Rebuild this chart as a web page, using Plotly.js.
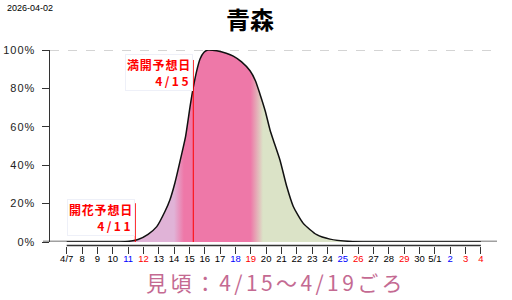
<!DOCTYPE html>
<html><head><meta charset="utf-8">
<script src="https://cdn.plot.ly/plotly-3.0.1.min.js"></script>
<style>html,body{margin:0;padding:0;background:#fff}#c{width:512px;height:300px}</style>
</head><body><div id="c"></div>
<script>
// days since 4/7 and bloom percentage
const dayOffsets = [0,2,3.5,4.0,4.65,5.3,5.87,6.41,6.73,7.06,7.5,7.75,8.05,8.25,8.47,8.69,8.95,9.2,9.78,10.4,10.86,11.4,11.95,12.3,12.6,12.95,13.25,13.47,13.9,14.34,14.77,15.42,16.3,17.16,18.46,19.8,21,27];
const bloomPct   = [0,0,0.05,0.3,1.3,4,8,16,22,31,46,55,71,80.5,89,95.3,98.8,100,99.6,98.3,96.8,93.8,89.2,84,77,68,58.5,53,42.7,29,18.5,9.7,3.8,1.5,0.3,0.02,0,0];
const tickDays   = [0,1,2,3,4,5,6,7,8,9,10,11,12,13,14,15,16,17,18,19,20,21,22,23,24,25,26,27];
const tickLabels = ['4/7','8','9','10','11','12','13','14','15','16','17','18','19','20','21','22','23','24','25','26','27','28','29','30','5/1','2','3','4'];
const tickColors = ['#000','#000','#000','#000','#00f','#f00','#000','#000','#000','#000','#000','#00f','#f00','#000','#000','#000','#000','#000','#00f','#f00','#000','#000','#f00','#000','#000','#00f','#f00','#f00'];
const yTickVals  = [0,20,40,60,80,100];
const yTickLabels = ['0%','20%','40%','60%','80%','100%'];
const kaikaDay = 4.47, kaikaLines = ['開花予想日','4/11'];
const mankaiDay = 8.25, mankaiLines = ['満開予想日','4/15'];
const mihagoroText = '見頃：4/15～4/19ごろ';
const dateText = '2026-04-02';
const titleText = '青森';

const jp = '"Noto Sans CJK JP", "Liberation Sans", sans-serif';
const sp = (t, ls) => '<span style="letter-spacing:' + ls + 'px">' + t + '</span>';
const trace = {
  x: dayOffsets, y: bloomPct, type: 'scatter', mode: 'lines',
  line: {color: '#111', width: 1.5, shape: 'spline', smoothing: 0.6},
  fill: 'tozeroy',
  fillgradient: {type: 'horizontal', start: 0, stop: 27,
    colorscale: [[0,'#e0b3d7'],[0.259,'#e0b3d7'],[0.283,'#ee78a8'],[0.444,'#ee78a8'],[0.474,'#dbe3c7'],[1,'#dbe3c7']]},
  hoverinfo: 'skip'
};
const layout = {
  width: 512, height: 300,
  margin: {l: 50, r: 15, t: 50, b: 50},
  paper_bgcolor: '#fff', plot_bgcolor: 'rgba(0,0,0,0)',
  showlegend: false,
  title: {text: '<b>' + titleText + '</b>', x: 250/512, xanchor: 'center', xref: 'container',
          y: 1 - 21/300, yanchor: 'middle', yref: 'container',
          font: {family: jp, size: 24, color: '#000'}},
  xaxis: {range: [-1.09, 28.05], anchor: 'free', position: 0.0225, showline: false, showgrid: false, zeroline: false,
          tickmode: 'array', tickvals: tickDays,
          ticktext: tickLabels.map((t,i) => '<span style="color:' + tickColors[i] + '">' + t + '</span>'),
          ticks: 'outside', ticklen: 7, tickwidth: 1, tickcolor: '#333', ticklabelstandoff: -3,
          tickfont: {family: '"Liberation Sans", Arial, sans-serif', size: 9.5, color: '#000'}},
  yaxis: {range: [0, 100], domain: [0.04, 1], showline: true, linecolor: '#333', linewidth: 1.5,
          showgrid: false, zeroline: false, tickmode: 'array', tickvals: yTickVals,
          ticktext: yTickLabels.map(t => sp(t, 1)),
          ticks: 'outside', ticklen: 7, tickwidth: 1, tickcolor: '#333', ticklabelstandoff: 4,
          tickfont: {family: '"Liberation Sans", Arial, sans-serif', size: 11, color: '#222'}},
  shapes: [
    {type: 'line', layer: 'below', xref: 'paper', yref: 'y', x0: -0.0157, x1: 1, y0: 0, y1: 0, line: {color: '#a0a0a0', width: 3}},
    {type: 'line', layer: 'below', xref: 'paper', yref: 'y', x0: 0, x1: 1, y0: 100, y1: 100, line: {color: '#aaa', width: 1, dash: 'dash'}},
    {type: 'line', xref: 'x', yref: 'paper', x0: 0, x1: 27, y0: 0.0225, y1: 0.0225, line: {color: '#333', width: 1.5}},
    {type: 'line', xref: 'x', yref: 'y', x0: kaikaDay, x1: kaikaDay, y0: 0, y1: 20.2, line: {color: '#f00', width: 1}},
    {type: 'line', xref: 'x', yref: 'y', x0: mankaiDay, x1: mankaiDay, y0: 0, y1: 94.8, line: {color: '#f00', width: 1}}
  ],
  annotations: [
    {text: '<b>' + sp(mankaiLines[0], 0.8) + '<br>' + sp(mankaiLines[1], 2.5) + '</b>', xref: 'x', yref: 'y', x: mankaiDay, y: 98, xanchor: 'right', yanchor: 'top',
     align: 'right', showarrow: false, bgcolor: '#fff', bordercolor: '#eef0f8', borderwidth: 1, borderpad: 1,
     font: {family: jp, size: 12, color: '#f00'}},
    {text: '<b>' + sp(kaikaLines[0], 0.8) + '<br>' + sp(kaikaLines[1], 2.5) + '</b>', xref: 'x', yref: 'y', x: kaikaDay, y: 22.5, xanchor: 'right', yanchor: 'top',
     align: 'right', showarrow: false, bgcolor: '#fff', bordercolor: '#eef0f8', borderwidth: 1, borderpad: 1,
     font: {family: jp, size: 12, color: '#f00'}},
    {text: dateText, xref: 'paper', yref: 'paper', x: -0.1007, y: 1.21, xanchor: 'left', yanchor: 'middle',
     showarrow: false, font: {family: '"Liberation Sans", Arial, sans-serif', size: 9, color: '#000'}},
    {text: sp(mihagoroText, 3.4), xref: 'paper', yref: 'paper', x: 0.5056, y: -0.158, xanchor: 'center', yanchor: 'middle',
     showarrow: false, font: {family: jp, size: 21, color: '#c46a92'}}
  ]
};
Plotly.newPlot('c', [trace], layout, {staticPlot: true, displayModeBar: false});
</script></body></html>
